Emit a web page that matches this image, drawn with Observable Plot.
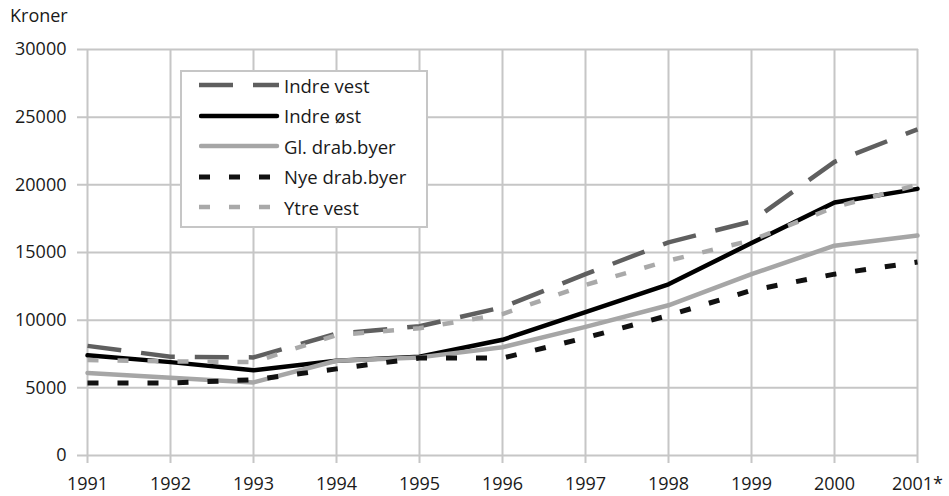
<!DOCTYPE html>
<html><head><meta charset="utf-8">
<script src="https://cdn.jsdelivr.net/npm/d3@7"></script>
<script src="https://cdn.jsdelivr.net/npm/@observablehq/plot@0.6"></script>
<style>
body{margin:0;background:#fff;font-family:"Open Sans",sans-serif;color:#1a1a1a}
#wrap{position:relative;width:949px;height:496px;overflow:hidden}
#unit{height:30px;font-size:18px;line-height:30px;padding-left:10px;box-sizing:border-box}
#legend{position:absolute;left:180px;top:70px;width:244px;height:154px;border:2px solid #c6c6c6;background:#fff}
.row{position:absolute;left:17px;height:30px;display:flex;align-items:center;font-size:18.5px;white-space:nowrap}
.row svg{display:block;margin-right:3px}
</style></head><body>
<div id="wrap"><div id="unit">Kroner</div><div id="chart"></div><div id="legend"></div></div>
<script>
const years = ["1991","1992","1993","1994","1995","1996","1997","1998","1999","2000","2001*"];
const yTicks = [0, 5000, 10000, 15000, 20000, 25000, 30000];
const seriesNames = ["Indre vest", "Indre øst", "Gl. drab.byer", "Nye drab.byer", "Ytre vest"];
const indreVest = [8100, 7300, 7250, 9000, 9550, 10950, 13400, 15750, 17300, 21700, 24100];
const indreOst  = [7400, 6900, 6300, 7000, 7300, 8550, 10600, 12650, 15700, 18700, 19700];
const glDrab    = [6100, 5750, 5400, 7000, 7250, 8000, 9500, 11100, 13400, 15500, 16250];
const nyeDrab   = [5350, 5350, 5600, 6400, 7200, 7200, 8700, 10350, 12200, 13400, 14300];
const ytreVest  = [7050, 6950, 6900, 8900, 9400, 10450, 12600, 14400, 15900, 18350, 20000];
const seriesValues = [indreVest, indreOst, glDrab, nyeDrab, ytreVest];

const styles = [
  {color:"#5f5f5f", width:4.5, dash:"34,20", cap:"butt"},
  {color:"#000000", width:4.5, dash:null, cap:"round"},
  {color:"#a6a6a6", width:4.5, dash:null, cap:"round"},
  {color:"#111111", width:5, dash:"11,19", cap:"butt"},
  {color:"#a9a9a9", width:4.5, dash:"11,19", cap:"butt"}
];

const data = seriesNames.flatMap((name, i) =>
  years.map((year, j) => ({series: name, year, value: seriesValues[i][j]})));

const gridColor = "#c6c6c6";
const chart = Plot.plot({
  width: 949, height: 466,
  marginTop: 19, marginLeft: 85, marginRight: 31, marginBottom: 41,
  style: {fontFamily: "Open Sans, sans-serif", fontSize: "18px", color: "#1a1a1a", background: "#fff", overflow: "visible"},
  x: {type: "point", domain: years, padding: 0},
  y: {domain: [0, 30000]},
  marks: [
    Plot.gridY(yTicks, {stroke: gridColor, strokeOpacity: 1, strokeWidth: 2, insetLeft: -8}),
    Plot.gridX(years, {stroke: gridColor, strokeOpacity: 1, strokeWidth: 2, insetBottom: -8}),
    Plot.axisY(yTicks, {tickSize: 0, tickPadding: 19, label: null, tickFormat: d => String(d)}),
    Plot.axisX(years, {tickSize: 0, tickPadding: 22, label: null}),
    ...seriesNames.map((name, i) => Plot.line(data.filter(d => d.series === name), {
      x: "year", y: "value", stroke: styles[i].color, strokeWidth: styles[i].width,
      strokeDasharray: styles[i].dash, strokeLinecap: styles[i].cap, strokeLinejoin: "round"
    }))
  ]
});
document.getElementById("chart").appendChild(chart);

const legend = d3.select("#legend");
seriesNames.forEach((name, i) => {
  const s = styles[i];
  const row = legend.append("div").attr("class", "row").style("top", (i * 30.5 - 2) + "px");
  const svg = row.append("svg").attr("width", 82).attr("height", 10);
  svg.append("line").attr("x1", s.cap === "round" ? 2 : 0).attr("x2", s.cap === "round" ? 78 : 80)
    .attr("y1", 5).attr("y2", 5)
    .attr("stroke", s.color).attr("stroke-width", s.width)
    .attr("stroke-dasharray", s.dash).attr("stroke-linecap", s.cap);
  row.append("span").text(name);
});
</script>
</body></html>
